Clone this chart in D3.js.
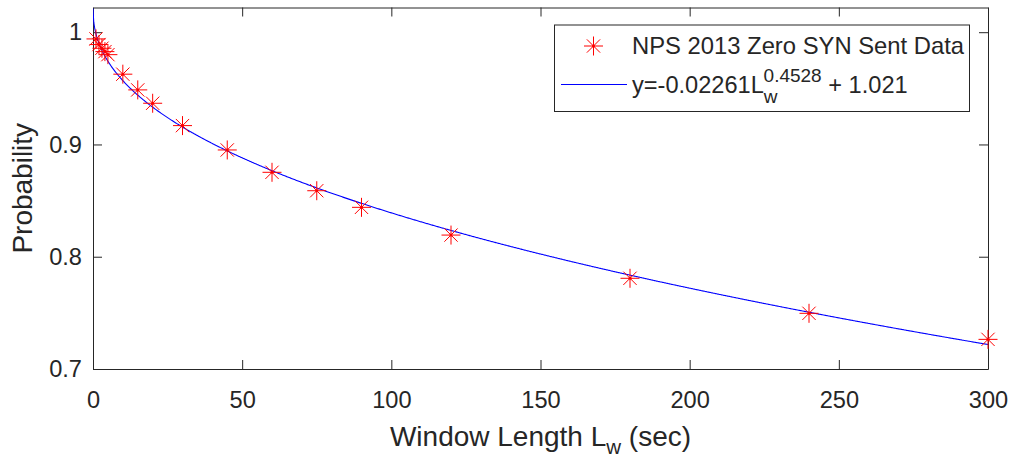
<!DOCTYPE html>
<html>
<head>
<meta charset="utf-8">
<script src="https://cdn.jsdelivr.net/npm/d3@7"></script>
<style>
  body { margin: 0; background: #fff; }
  text { font-family: "Liberation Sans", Arial, sans-serif; fill: #262626; }
</style>
</head>
<body>
<svg id="chart" width="1011" height="461"></svg>
<script>
// measured points
var windowLen = [1, 2, 3, 4, 5, 10, 15, 20, 30, 45, 60, 75, 90, 120, 180, 240, 300];
var probability = [0.994, 0.989, 0.9857, 0.9827, 0.980, 0.9626, 0.9486, 0.9367, 0.9168,
                   0.8951, 0.8752, 0.8588, 0.844, 0.8193, 0.7808, 0.7496, 0.7264];

// fit shown in legend: y = a*L^b + c
var fitA = -0.02261, fitB = 0.4528, fitC = 1.021;

var xTicks = [0, 50, 100, 150, 200, 250, 300];
var yTicks = [0.7, 0.8, 0.9, 1];

var svg = d3.select("#chart");
var L = 93, R = 988, T = 7.5, B = 369;

var x = d3.scaleLinear().domain([0, 300]).range([L, R]);
var y = d3.scaleLinear().domain([0.7, 1.022]).range([B, T]);

svg.append("clipPath").attr("id", "clip")
  .append("rect").attr("x", L).attr("y", T).attr("width", R - L).attr("height", B - T);

// axes (box with inward ticks)
var axisColor = "#262626";
var tickFont = 23.6;
function styleAxis(g) {
  g.selectAll("path").attr("stroke", axisColor).attr("stroke-width", 1);
  g.selectAll("line").attr("stroke", axisColor).attr("stroke-width", 1);
}
var gx = svg.append("g").attr("transform", "translate(0," + B + ")")
  .call(d3.axisBottom(x).tickValues(xTicks).tickSizeInner(-9).tickSizeOuter(0).tickPadding(22));
gx.selectAll("text").attr("font-size", tickFont).attr("fill", axisColor);
styleAxis(gx);

var gxt = svg.append("g").attr("transform", "translate(0," + T + ")")
  .call(d3.axisTop(x).tickValues(xTicks).tickSizeInner(-9).tickSizeOuter(0).tickFormat(""));
styleAxis(gxt);

var gy = svg.append("g").attr("transform", "translate(" + L + ",0)")
  .call(d3.axisLeft(y).tickValues(yTicks).tickSizeInner(-9).tickSizeOuter(0).tickPadding(11)
    .tickFormat(function(d) { return d === 1 ? "1" : d3.format(".1f")(d); }));
gy.selectAll("text").attr("font-size", tickFont).attr("fill", axisColor);
styleAxis(gy);

var gyr = svg.append("g").attr("transform", "translate(" + R + ",0)")
  .call(d3.axisRight(y).tickValues(yTicks).tickSizeInner(-9).tickSizeOuter(0).tickFormat(""));
styleAxis(gyr);

// fit curve
var fitX = d3.range(0, 300.001, 0.25);
var line = d3.line()
  .x(function(d) { return x(d); })
  .y(function(d) { return y(fitA * Math.pow(d, fitB) + fitC); });
svg.append("path").datum(fitX)
  .attr("clip-path", "url(#clip)")
  .attr("d", line)
  .attr("fill", "none")
  .attr("stroke", "#0000ff")
  .attr("stroke-width", 1.1);

// star markers
function star(g, r) {
  var d = r * 0.7;
  g.append("line").attr("x1", -r).attr("x2", r).attr("y1", 0).attr("y2", 0);
  g.append("line").attr("x1", 0).attr("x2", 0).attr("y1", -r).attr("y2", r);
  g.append("line").attr("x1", -d).attr("x2", d).attr("y1", -d).attr("y2", d);
  g.append("line").attr("x1", -d).attr("x2", d).attr("y1", d).attr("y2", -d);
  g.attr("stroke", "#ff0000").attr("stroke-width", 1);
  g.append("circle").attr("r", 1.5).attr("fill", "#ff0000").attr("stroke", "none");
}
var pts = svg.selectAll("g.pt")
  .data(d3.zip(windowLen, probability))
  .enter().append("g")
  .attr("class", "pt")
  .attr("transform", function(d) { return "translate(" + x(d[0]) + "," + y(d[1]) + ")"; });
pts.each(function() { star(d3.select(this), 9.5); });

// axis labels
var xl = svg.append("text").attr("x", (L + R) / 2).attr("y", 446)
  .attr("text-anchor", "middle").attr("font-size", 28);
xl.append("tspan").text("Window Length L");
xl.append("tspan").attr("font-size", 20.5).attr("dy", 8).text("w");
xl.append("tspan").attr("dy", -8).text(" (sec)");

svg.append("text")
  .attr("transform", "translate(32," + (T + B) / 2 + ") rotate(-90)")
  .attr("text-anchor", "middle").attr("font-size", 28)
  .text("Probability");

// legend
var lg = svg.append("g");
lg.append("rect").attr("x", 554.5).attr("y", 25).attr("width", 415).attr("height", 86.5)
  .attr("fill", "#fff").attr("stroke", axisColor).attr("stroke-width", 1);
var s = lg.append("g").attr("transform", "translate(593.5,46)");
star(s, 9.5);
lg.append("text").attr("x", 632).attr("y", 54).attr("font-size", 23.8).attr("fill", "#000")
  .text("NPS 2013 Zero SYN Sent Data");
lg.append("line").attr("x1", 561).attr("x2", 627).attr("y1", 84.5).attr("y2", 84.5)
  .attr("stroke", "#0000ff").attr("stroke-width", 1.1);
var ft = lg.append("text").attr("x", 632).attr("y", 92.5).attr("font-size", 23.6).attr("fill", "#000");
ft.append("tspan").text("y=-0.02261L");
ft.append("tspan").attr("font-size", 19).attr("dy", 10).text("w");
ft.append("tspan").attr("font-size", 19).attr("dx", -14).attr("dy", -21).text("0.4528");
ft.append("tspan").attr("dy", 11).text(" + 1.021");
</script>
</body>
</html>
